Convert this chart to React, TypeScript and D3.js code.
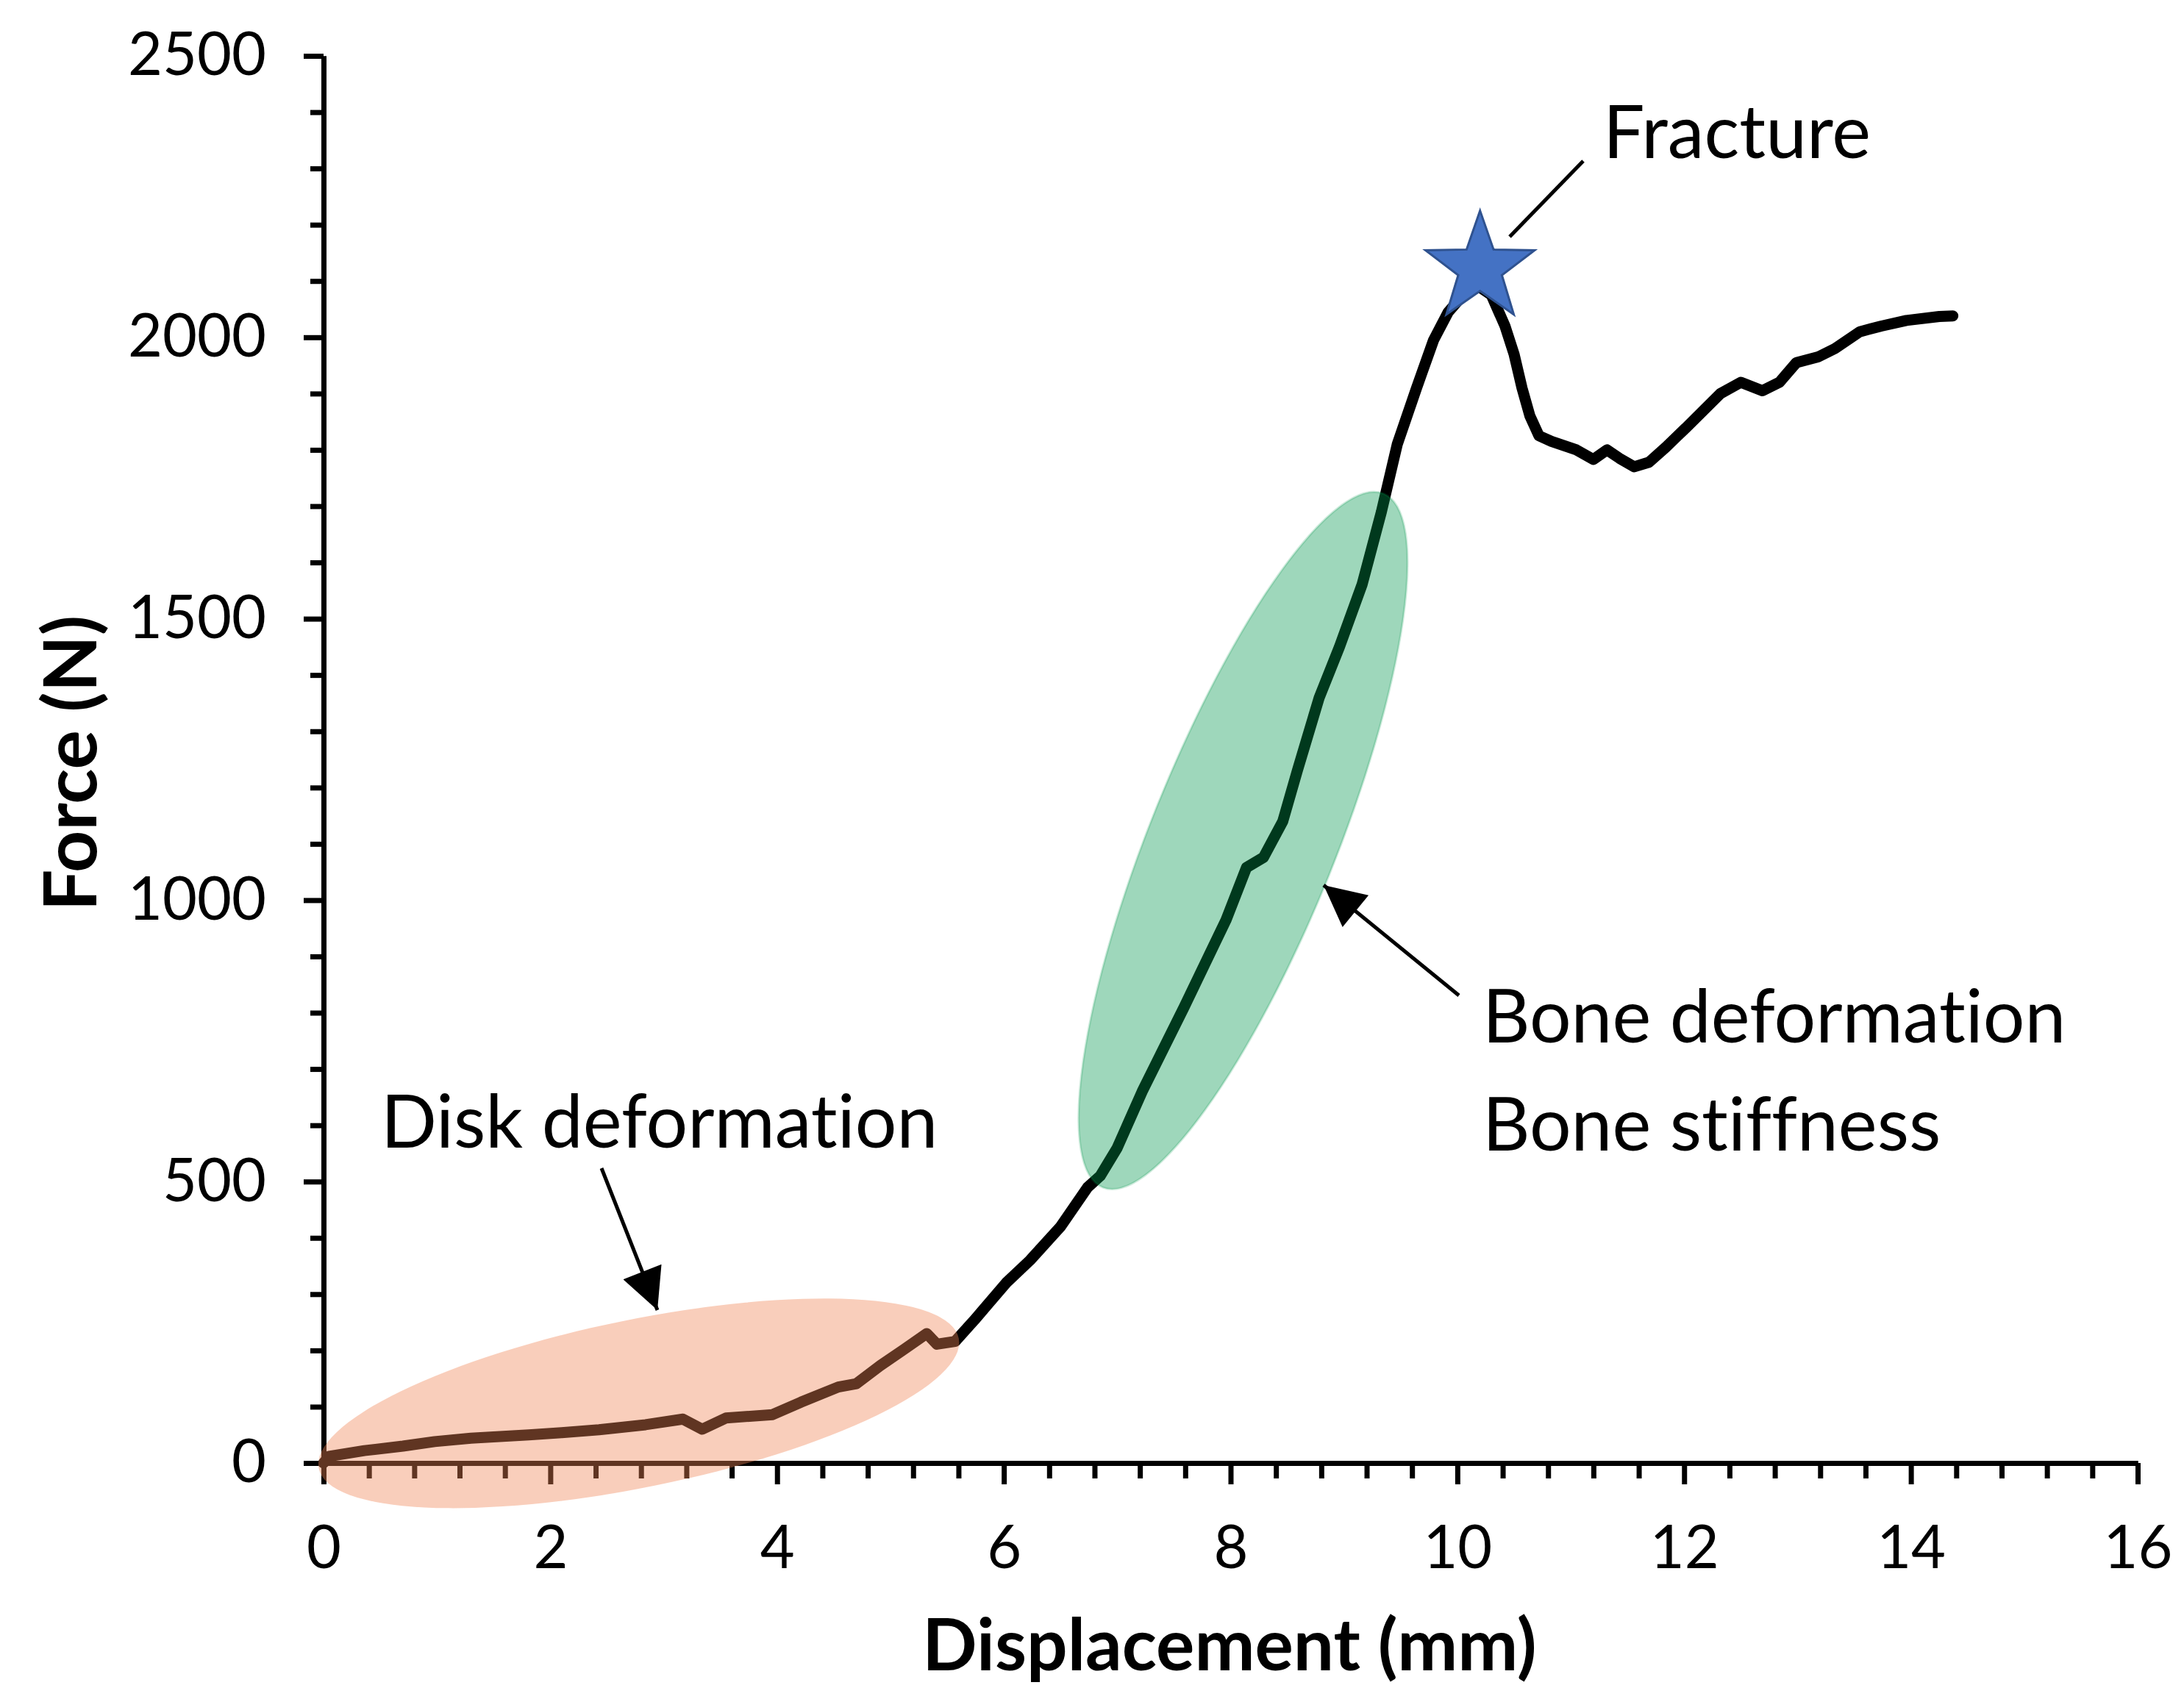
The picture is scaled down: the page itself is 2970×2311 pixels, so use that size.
import { useEffect, useRef } from "react";
import * as d3 from "d3";

// force-displacement curve
const displacement = [
  0, 0.05, 0.36, 0.7, 0.98, 1.3, 1.81, 2.1, 2.43, 2.84, 3.17, 3.34, 3.55,
  3.96, 4.21, 4.54, 4.7, 4.91, 5.12, 5.32, 5.41, 5.57, 5.74, 6.02, 6.23, 6.5,
  6.74, 6.85, 7.0, 7.22, 7.59, 7.96, 8.14, 8.29, 8.46, 8.59, 8.78, 8.96, 9.16,
  9.33, 9.47, 9.64, 9.79, 9.92, 10.05, 10.19, 10.3, 10.42, 10.5, 10.57, 10.64,
  10.72, 10.83, 11.05, 11.2, 11.32, 11.43, 11.56, 11.69, 11.84, 12.02, 12.17,
  12.32, 12.5, 12.69, 12.84, 12.99, 13.18, 13.33, 13.55, 13.74, 13.96, 14.25,
  14.37,
];
const force = [
  0, 12, 22, 30, 38, 44, 50, 54, 59, 68, 78, 60, 80, 86, 108, 135, 141, 173,
  202, 230, 211, 216, 254, 320, 360, 420, 490, 510, 560, 660, 810, 965, 1058,
  1076, 1140, 1231, 1359, 1450, 1561, 1690, 1810, 1910, 1995, 2045, 2075, 2090,
  2075, 2020, 1970, 1910, 1860, 1825, 1815, 1800, 1783, 1800, 1785, 1770, 1778,
  1805, 1840, 1870, 1900, 1920, 1905, 1920, 1955, 1965, 1980, 2010, 2020, 2030,
  2037, 2038,
];

const xTicks = [0, 2, 4, 6, 8, 10, 12, 14, 16];
const yTicks = [0, 500, 1000, 1500, 2000, 2500];

const fracture = { x: 10.2, y: 2123 };

const WIDTH = 2970;
const HEIGHT = 2311;
const FONT = "Lato, 'Open Sans', sans-serif";

const App = () => {
  const svgRef = useRef<SVGSVGElement | null>(null);

  useEffect(() => {
    if (!svgRef.current) return;
    const svg = d3.select(svgRef.current);
    svg.selectAll("*").remove();

    const x = d3.scaleLinear().domain([0, 16]).range([440, 2907]);
    const y = d3.scaleLinear().domain([0, 2500]).range([1990, 76]);

    const xMinor = d3
      .range(0, 16.001, 0.4)
      .filter((v) => Math.abs(v / 2 - Math.round(v / 2)) > 0.01);
    const yMinor = d3.range(0, 2501, 100).filter((v) => v % 500 !== 0);

    // curve
    const line = d3
      .line<number>()
      .x((_d, i) => x(displacement[i]))
      .y((d) => y(d))
      .curve(d3.curveLinear);

    svg
      .append("path")
      .datum(force)
      .attr("d", line)
      .attr("fill", "none")
      .attr("stroke", "#000")
      .attr("stroke-width", 15)
      .attr("stroke-linejoin", "round")
      .attr("stroke-linecap", "round");

    // axes
    const styleAxis = (g: d3.Selection<SVGGElement, unknown, null, undefined>) => {
      g.select(".domain").attr("stroke", "#000").attr("stroke-width", 7);
      g.selectAll(".tick line").attr("stroke", "#000").attr("stroke-width", 7);
      g.selectAll("text")
        .attr("font-family", FONT)
        .attr("font-size", 81)
        .attr("fill", "#000");
    };

    svg
      .append("g")
      .attr("transform", `translate(0,${y(0)})`)
      .call(d3.axisBottom(x).tickValues(xMinor).tickSize(21).tickSizeOuter(0).tickFormat(() => ""))
      .call(styleAxis);
    svg
      .append("g")
      .attr("transform", `translate(0,${y(0)})`)
      .call(d3.axisBottom(x).tickValues(xTicks).tickSize(29).tickSizeOuter(0).tickPadding(56).tickFormat(d3.format("d")))
      .call(styleAxis);

    svg
      .append("g")
      .attr("transform", `translate(${x(0)},0)`)
      .call(d3.axisLeft(y).tickValues(yMinor).tickSize(18).tickSizeOuter(0).tickFormat(() => ""))
      .call(styleAxis);
    svg
      .append("g")
      .attr("transform", `translate(${x(0)},0)`)
      .call(d3.axisLeft(y).tickValues(yTicks).tickSize(27).tickSizeOuter(0).tickPadding(51).tickFormat(d3.format("d")))
      .call(styleAxis);

    // axis titles
    svg
      .append("text")
      .attr("x", 1672)
      .attr("y", 2272)
      .attr("text-anchor", "middle")
      .attr("font-family", FONT)
      .attr("font-weight", 700)
      .attr("font-size", 98)
      .text("Displacement (mm)");
    svg
      .append("text")
      .attr("transform", "translate(131,1038) rotate(-90)")
      .attr("text-anchor", "middle")
      .attr("font-family", FONT)
      .attr("font-weight", 700)
      .attr("font-size", 100)
      .text("Force (N)");

    // highlighted regions
    svg
      .append("ellipse")
      .attr("transform", `translate(${x(2.78)},${y(106)}) rotate(-11.5)`)
      .attr("rx", 444)
      .attr("ry", 114)
      .attr("fill", "rgb(240,132,85)")
      .attr("fill-opacity", 0.4);
    svg
      .append("ellipse")
      .attr("transform", `translate(${x(8.11)},${y(1106)}) rotate(-68)`)
      .attr("rx", 509)
      .attr("ry", 126)
      .attr("fill", "rgb(0,150,75)")
      .attr("fill-opacity", 0.38)
      .attr("stroke", "rgb(0,150,75)")
      .attr("stroke-opacity", 0.2)
      .attr("stroke-width", 3);

    // fracture star
    const R = 78;
    const points = d3.range(10).map((i) => {
      const r = i % 2 === 0 ? R : R * 0.4;
      const a = (Math.PI / 5) * i - Math.PI / 2;
      return [r * Math.cos(a), r * Math.sin(a)] as [number, number];
    });
    svg
      .append("polygon")
      .attr("transform", `translate(${x(fracture.x)},${y(fracture.y)})`)
      .attr("points", points.map((p) => p.join(",")).join(" "))
      .attr("fill", "#4472C4")
      .attr("stroke", "#2F528F")
      .attr("stroke-width", 3);

    // annotations
    const defs = svg.append("defs");
    defs
      .append("marker")
      .attr("id", "arrow")
      .attr("viewBox", "0 0 10 10")
      .attr("refX", 10)
      .attr("refY", 5)
      .attr("markerUnits", "userSpaceOnUse")
      .attr("markerWidth", 62)
      .attr("markerHeight", 56)
      .attr("orient", "auto")
      .append("path")
      .attr("d", "M0,0 L10,5 L0,10 Z")
      .attr("fill", "#000");

    const arrow = (x1: number, y1: number, x2: number, y2: number) =>
      svg
        .append("line")
        .attr("x1", x1)
        .attr("y1", y1)
        .attr("x2", x2)
        .attr("y2", y2)
        .attr("stroke", "#000")
        .attr("stroke-width", 5)
        .attr("marker-end", "url(#arrow)");

    svg
      .append("line")
      .attr("x1", 2053)
      .attr("y1", 322)
      .attr("x2", 2153)
      .attr("y2", 219)
      .attr("stroke", "#000")
      .attr("stroke-width", 5);

    arrow(1984, 1354, 1800, 1204);
    arrow(818, 1589, 894, 1782);

    const label = (tx: number, ty: number, s: string) =>
      svg
        .append("text")
        .attr("x", tx)
        .attr("y", ty)
        .attr("font-family", FONT)
        .attr("font-size", 100)
        .style("font-variant-ligatures", "none")
        .attr("fill", "#000")
        .text(s);

    label(2180, 215, "Fracture");
    label(2016, 1418, "Bone deformation");
    label(2016, 1565, "Bone stiffness");
    label(518, 1561, "Disk deformation");
  }, []);

  return (
    <svg
      ref={svgRef}
      width={WIDTH}
      height={HEIGHT}
      style={{ position: "absolute", left: 0, top: 0, background: "#fff" }}
    />
  );
};

export default App;
